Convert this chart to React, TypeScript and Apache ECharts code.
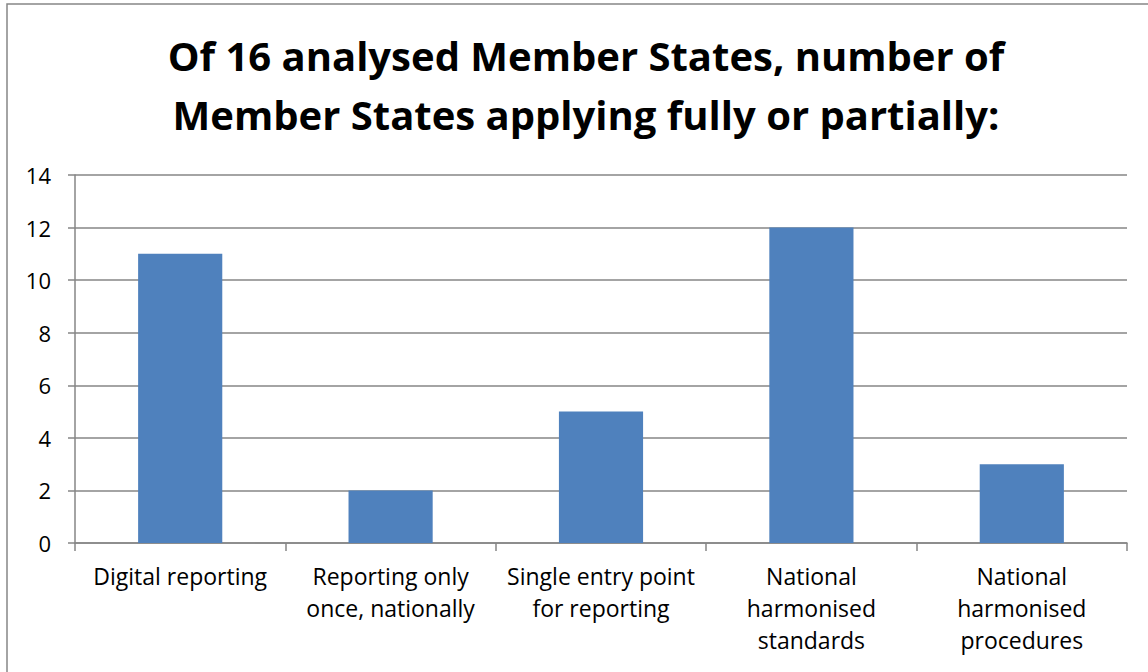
import React, { useEffect, useRef } from "react";
import * as echarts from "echarts";

const categories = [
  "Digital reporting",
  "Reporting only\nonce, nationally",
  "Single entry point\nfor reporting",
  "National\nharmonised\nstandards",
  "National\nharmonised\nprocedures",
];
const values = [11, 2, 5, 12, 3];
const titleText = "Of 16 analysed Member States, number of\nMember States applying fully or partially:";

const FONT = "'Open Sans', Lato, sans-serif";
const GRAY = "#868686";

export default function App() {
  const ref = useRef<HTMLDivElement>(null);
  useEffect(() => {
    const chart = echarts.init(ref.current!, null, { renderer: "svg" });
    chart.setOption({
      animation: false,
      backgroundColor: "#ffffff",
      textStyle: { fontFamily: FONT },
      title: {
        text: titleText,
        left: 581,
        top: 21,
        textAlign: "center",
        textStyle: {
          fontFamily: FONT,
          fontSize: 40,
          fontWeight: "bold",
          color: "#000",
          lineHeight: 59,
        },
      },
      graphic: [
        {
          type: "rect",
          shape: { x: 7, y: 4, width: 1170, height: 700 },
          style: { fill: "none", stroke: GRAY, lineWidth: 1.5 },
          silent: true,
        },
      ],
      grid: { left: 75, top: 175, width: 1052, height: 368, containLabel: false },
      xAxis: {
        type: "category",
        data: categories,
        axisLine: { show: true, lineStyle: { color: GRAY, width: 1.5 } },
        axisTick: { show: true, alignWithLabel: false, length: 8, lineStyle: { color: GRAY, width: 1.5 } },
        axisLabel: {
          interval: 0,
          color: "#000",
          fontSize: 23,
          lineHeight: 32,
          margin: 17,
          fontFamily: FONT,
        },
      },
      yAxis: {
        type: "value",
        min: 0,
        max: 14,
        interval: 2,
        axisLine: { show: true, lineStyle: { color: GRAY, width: 1.5 } },
        axisTick: { show: true, length: 7, lineStyle: { color: GRAY, width: 1.5 } },
        axisLabel: { color: "#000", fontSize: 22, margin: 24, fontFamily: FONT },
        splitLine: { show: true, lineStyle: { color: GRAY, width: 1.5 } },
      },
      series: [
        {
          type: "bar",
          data: values,
          barWidth: "40%",
          itemStyle: { color: "#4F81BD" },
        },
      ],
    });
    return () => chart.dispose();
  }, []);
  return (
    <div
      ref={ref}
      style={{ position: "fixed", left: 0, top: 0, width: 1148, height: 672 }}
    />
  );
}
